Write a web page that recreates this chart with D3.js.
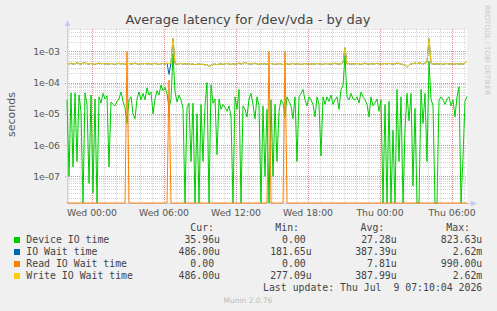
<!DOCTYPE html>
<html>
<head>
<meta charset="utf-8">
<script src="https://cdn.jsdelivr.net/npm/d3@7"></script>
<style>
  body { margin: 0; background: #f0f0f0; }
  svg { display: block; }
  text { font-family: "DejaVu Sans", sans-serif; fill: #555; }
  .mono { font-family: "DejaVu Sans Mono", monospace; font-size: 9.85px; fill: #444; white-space: pre; }
</style>
</head>
<body>
<script>

// samples every 10 minutes, values in microseconds
const endTime = Date.UTC(2026, 6, 9, 7, 15);
const stepMs = 10 * 60 * 1000;

const deviceIO = [
  28, 0.1, 47, 0.2, 47, 0.3, 40, 12, 0, 47,
  20, 0.06, 40, 0.03, 30, 0, 35, 22, 45, 30,
  38, 0.2, 24, 20, 18, 25, 30, 50, 25, 16,
  5, 28, 35, 10, 7, 30, 50, 28, 45, 28,
  68, 40, 50, 10, 30, 55, 40, 84, 55, 70,
  45, 15, 30, 823, 50, 24, 40, 28, 15, 0,
  16, 22, 0.3, 22, 0, 10, 0, 20, 0.3, 18,
  100, 0, 85, 22, 30, 0.5, 30, 14, 20, 16,
  12, 18, 8, 0, 35, 14, 60, 0, 18, 14,
  8, 30, 45, 20, 7, 35, 18, 0, 18, 0.1,
  14, 0, 28, 0.1, 20, 0.3, 12, 28, 22, 8,
  35, 25, 18, 7, 35, 0.3, 35, 45, 60, 28,
  18, 35, 28, 20, 8, 35, 20, 0.45, 35, 20,
  35, 25, 40, 20, 28, 35, 14, 60, 80, 700,
  35, 28, 45, 30, 28, 35, 22, 50, 35, 28,
  20, 8, 35, 18, 22, 30, 12, 28, 0, 20,
  0, 25, 0, 3, 0, 60, 0.3, 35, 0, 3,
  45, 6, 45, 0.05, 15, 0, 0, 60, 5, 45,
  0.3, 470, 30, 18, 0, 0, 28, 35, 28, 20,
  30, 35, 18, 28, 8, 35, 74, 0, 0.4, 25,
  36
];

const writeWait = [
  410, 395, 420, 385, 400, 430, 405, 390, 415, 440, 400, 385, 410, 395, 380, 405, 420, 395, 410, 390,
  400, 385, 410, 395, 380, 400, 415, 390, 405, 385, 395, 410, 390, 400, 420, 395, 380, 405, 395, 410,
  390, 405, 385, 400, 415, 395, 380, 400, 410, 390, 420, 400, 430, 2620, 400, 380, 395, 410, 385, 400,
  390, 405, 380, 395, 370, 385, 400, 375, 390, 360, 385, 320, 350, 380, 395, 370, 390, 400, 380, 395,
  410, 390, 380, 400, 385, 395, 420, 390, 405, 440, 410, 395, 385, 400, 415, 395, 380, 405, 390, 400,
  385, 400, 410, 395, 380, 390, 405, 395, 375, 390, 400, 380, 395, 410, 385, 400, 390, 380, 395, 405,
  390, 380, 400, 395, 385, 410, 395, 390, 380, 400, 405, 390, 385, 400, 415, 395, 385, 400, 430, 1300,
  395, 405, 385, 400, 390, 410, 395, 380, 400, 420, 395, 385, 405, 390, 400, 415, 395, 380, 400, 405,
  390, 410, 400, 385, 395, 420, 405, 390, 380, 360, 310, 370, 395, 405, 420, 400, 430, 410, 395, 420,
  440, 2620, 410, 395, 385, 400, 390, 405, 380, 395, 410, 390, 400, 380, 395, 405, 385, 400, 390, 420,
  486
];

const ioWait = [
  410, 395, 420, 385, 400, 430, 405, 390, 415, 440, 400, 385, 410, 395, 380, 405, 420, 395, 410, 390,
  400, 385, 410, 395, 380, 400, 415, 390, 405, 385, 395, 410, 390, 400, 420, 395, 380, 405, 395, 410,
  390, 405, 385, 400, 415, 395, 380, 400, 410, 390, 420, 182, 430, 2620, 400, 380, 395, 410, 385, 400,
  390, 405, 380, 395, 370, 385, 400, 375, 390, 360, 385, 320, 350, 380, 395, 370, 390, 400, 380, 395,
  410, 390, 380, 400, 385, 395, 420, 390, 405, 440, 410, 395, 385, 400, 415, 395, 380, 405, 390, 400,
  385, 400, 410, 395, 380, 390, 405, 395, 375, 390, 400, 380, 395, 410, 385, 400, 390, 380, 395, 405,
  390, 380, 400, 395, 385, 410, 395, 390, 380, 400, 405, 390, 385, 400, 415, 395, 385, 400, 430, 1300,
  395, 405, 385, 400, 390, 410, 395, 380, 400, 420, 395, 385, 405, 390, 400, 415, 395, 380, 400, 405,
  390, 410, 400, 385, 395, 420, 405, 390, 380, 360, 310, 370, 395, 405, 420, 400, 430, 410, 395, 420,
  440, 2620, 410, 395, 385, 400, 390, 405, 380, 395, 410, 390, 400, 380, 395, 405, 385, 400, 390, 420,
  486
];

// read wait is zero except for a few samples: [sample index, microseconds]
const readSpikes = [[30, 990], [51, 120], [101, 990], [109, 970]];

const seriesNames  = ["Device IO time", "IO Wait time", "Read IO Wait time", "Write IO Wait time"];
const seriesColors = ["#00cc00", "#0066b3", "#ff8000", "#ffcc00"];
const curText = ["35.96u", "486.00u", "0.00\u00a0", "486.00u"];
const minText = ["0.00\u00a0", "181.65u", "0.00\u00a0", "277.09u"];
const avgText = ["27.28u", "387.39u", "7.81u", "387.99u"];
const maxText = ["823.63u", "2.62m", "990.00u", "2.62m"];
const yTickValues = [1e-3, 1e-4, 1e-5, 1e-6, 1e-7];

const readWait = deviceIO.map(() => 0);
readSpikes.forEach(([i, v]) => { readWait[i] = v; });

const n = deviceIO.length;
const startTime = endTime - (n - 1) * stepMs;
const toPoints = arr => arr.map((v, i) => ({t: new Date(startTime + i * stepMs), v: v * 1e-6}));

const width = 497, height = 311;
const plot = {left: 67, right: 467, top: 29, bottom: 203};

const yMin = 1.42e-8, yMax = 5.14e-3;
const x = d3.scaleUtc().domain([new Date(startTime), new Date(endTime)]).range([plot.left, plot.right]);
const y = d3.scaleLog().domain([yMin, yMax]).range([plot.bottom, plot.top]);

const svg = d3.select("body").append("svg")
    .attr("width", width)
    .attr("height", height);

svg.append("rect").attr("width", width).attr("height", height).attr("fill", "#f0f0f0");
svg.append("rect")
  .attr("x", plot.left).attr("y", plot.top)
  .attr("width", plot.right - plot.left).attr("height", plot.bottom - plot.top)
  .attr("fill", "#fff");

const grid = svg.append("g").attr("fill", "none").attr("stroke-dasharray", "1,1");

// horizontal log grid
for (let e = -8; e <= -3; e++) {
  for (let m = 1; m <= 9; m++) {
    const v = m * Math.pow(10, e);
    if (v < yMin || v > yMax) continue;
    const yy = Math.round(y(v)) + 0.5;
    grid.append("line")
      .attr("x1", m === 1 ? plot.left - 2 : plot.left).attr("x2", plot.right)
      .attr("y1", yy).attr("y2", yy)
      .attr("stroke", m === 1 ? "#e09090" : "#d4d4d4");
  }
}

// vertical time grid
x.ticks(d3.utcHour.every(1)).forEach(t => {
  const major = t.getUTCHours() % 6 === 0;
  const xx = Math.round(x(t)) + 0.5;
  grid.append("line")
    .attr("x1", xx).attr("x2", xx)
    .attr("y1", plot.top).attr("y2", major ? plot.bottom + 2 : plot.bottom)
    .attr("stroke", major ? "#e09090" : "#d4d4d4");
});

// axes
const axisColor = "#c4ccf4";
svg.append("line")
  .attr("x1", plot.left + 0.5).attr("x2", plot.left + 0.5)
  .attr("y1", plot.bottom + 0.5).attr("y2", 24)
  .attr("stroke", axisColor);
svg.append("path")
  .attr("d", `M${plot.left - 2.5},${26} L${plot.left + 0.5},${20} L${plot.left + 3.5},${26} Z`)
  .attr("fill", axisColor);
svg.append("line")
  .attr("x1", plot.left).attr("x2", plot.right + 5)
  .attr("y1", plot.bottom + 0.5).attr("y2", plot.bottom + 0.5)
  .attr("stroke", axisColor);
svg.append("path")
  .attr("d", `M${plot.right + 4},${plot.bottom - 2.5} L${plot.right + 10},${plot.bottom + 0.5} L${plot.right + 4},${plot.bottom + 3.5} Z`)
  .attr("fill", axisColor);

// series
const line = d3.line()
  .x(d => x(d.t))
  .y(d => y(Math.max(d.v, yMin)));

const allSeries = [deviceIO, ioWait, readWait, writeWait];
allSeries.forEach((arr, k) => {
  svg.append("path")
    .datum(toPoints(arr))
    .attr("fill", "none")
    .attr("stroke", seriesColors[k])
    .attr("stroke-width", 1)
    .attr("d", line);
});

// tick labels
svg.append("g").selectAll("text")
  .data(yTickValues)
  .enter().append("text")
  .attr("x", 60).attr("y", d => y(d))
  .attr("dy", "0.36em")
  .attr("text-anchor", "end")
  .style("font-size", "9.3px")
  .text(d => "1e-0" + Math.round(-Math.log10(d)));

svg.append("g").selectAll("text")
  .data(x.ticks(d3.utcHour.every(6)))
  .enter().append("text")
  .attr("x", d => x(d)).attr("y", 216)
  .attr("text-anchor", "middle")
  .style("font-size", "9.3px")
  .text(d3.utcFormat("%a %H:%M"));

svg.append("text")
  .attr("transform", "translate(11,114.5) rotate(-90)")
  .attr("dy", "0.36em")
  .attr("text-anchor", "middle")
  .style("font-size", "11px")
  .text("seconds");

svg.append("text")
  .attr("x", 248).attr("y", 24)
  .attr("text-anchor", "middle")
  .style("font-size", "13px")
  .style("fill", "#444")
  .text("Average latency for /dev/vda - by day");

svg.append("text")
  .attr("transform", "translate(485,5) rotate(90)")
  .style("font-size", "7px")
  .style("fill", "#c8c8c8")
  .text("RRDTOOL / TOBI OETIKER");

// legend
const headers = [["Cur:", 214], ["Min:", 299], ["Avg:", 384.3], ["Max:", 470]];
const colEnds = [220, 311.7, 396.7, 482.3];
const columns = [curText, minText, avgText, maxText];

headers.forEach(([h, xe]) => {
  svg.append("text").attr("class", "mono")
    .attr("x", xe).attr("y", 231).attr("text-anchor", "end").text(h);
});

seriesNames.forEach((name, k) => {
  const base = 243 + k * 12;
  svg.append("rect")
    .attr("x", 14).attr("y", base - 6)
    .attr("width", 6).attr("height", 6)
    .attr("fill", seriesColors[k]);
  svg.append("text").attr("class", "mono")
    .attr("x", 26.3).attr("y", base).text(name);
  columns.forEach((col, c) => {
    svg.append("text").attr("class", "mono")
      .attr("x", colEnds[c]).attr("y", base)
      .attr("text-anchor", "end").text(col[k]);
  });
});

svg.append("text").attr("class", "mono")
  .attr("x", 482.3).attr("y", 291)
  .attr("text-anchor", "end")
  .text("Last update: Thu Jul  9 07:10:04 2026");

svg.append("text")
  .attr("x", 248).attr("y", 303)
  .attr("text-anchor", "middle")
  .style("font-size", "7.5px")
  .style("fill", "#bbb")
  .text("Munin 2.0.76");

</script>
</body>
</html>
